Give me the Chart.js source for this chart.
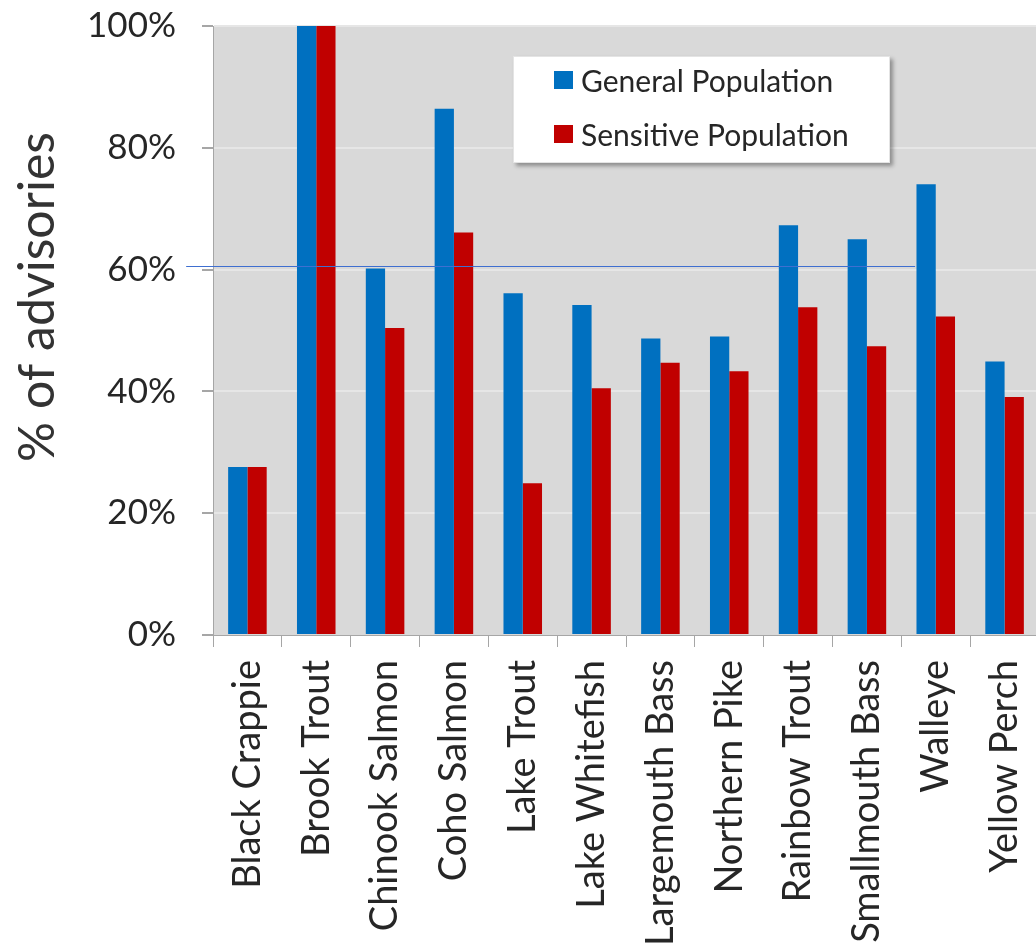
<!DOCTYPE html>
<html>
<head>
    <title>Fish advisories</title>
    <script src="https://cdn.jsdelivr.net/npm/chart.js"></script>
    <style>
        body { margin: 0; overflow: hidden; background: #fff; font-family: Lato, sans-serif; }
        #wrap { position: relative; width: 1040px; height: 952px; }
        #legend {
            position: absolute; left: 513px; top: 56px; width: 377px; height: 107px;
            background: #fff; box-shadow: 3px 3px 4px rgba(0,0,0,0.35);
            border: 1px solid #e4e4e4; box-sizing: border-box;
        }
        .item { position: absolute; left: 40px; height: 36px; display: flex; align-items: center;
                font-size: 30px; color: #262626; }
        .swatch { width: 19px; height: 18px; margin-right: 8px; }
    </style>
</head>
<body>
    <div id="wrap">
        <canvas id="fishChart"></canvas>
        <div id="legend"></div>
    </div>

    <script>
        // data
        const species = ['Black Crappie', 'Brook Trout', 'Chinook Salmon', 'Coho Salmon', 'Lake Trout',
            'Lake Whitefish', 'Largemouth Bass', 'Northern Pike', 'Rainbow Trout', 'Smallmouth Bass',
            'Walleye', 'Yellow Perch'];
        const generalPop = [27.6, 100, 60.2, 86.4, 56.1, 54.2, 48.7, 49.0, 67.3, 65.0, 74.0, 44.9];
        const sensitivePop = [27.6, 100, 50.4, 66.1, 24.9, 40.5, 44.7, 43.3, 53.8, 47.4, 52.3, 39.1];
        const yTickStep = 20;
        // stray blue rule in the original: value in %, span in category units
        const refLine = { value: 60.6, from: -0.89, to: 9.7 };

        const plotBg = {
            id: 'plotBg',
            beforeDraw(chart) {
                const { ctx, chartArea: a } = chart;
                ctx.save();
                ctx.fillStyle = '#d9d9d9';
                ctx.fillRect(a.left, a.top, a.right - a.left, a.bottom - a.top);
                ctx.restore();
            }
        };

        const blueRule = {
            id: 'blueRule',
            afterDatasetsDraw(chart) {
                const { ctx, scales } = chart;
                const y = Math.round(scales.y.getPixelForValue(refLine.value)) + 0.5;
                ctx.save();
                ctx.strokeStyle = '#3f6fd0';
                ctx.lineWidth = 1.2;
                ctx.beginPath();
                ctx.moveTo(scales.x.getPixelForValue(refLine.from), y);
                ctx.lineTo(scales.x.getPixelForValue(refLine.to), y);
                ctx.stroke();
                ctx.restore();
            }
        };

        const yTitle = {
            id: 'yTitle',
            afterDraw(chart) {
                const { ctx } = chart;
                ctx.save();
                ctx.translate(38, 297);
                ctx.rotate(-Math.PI / 2);
                ctx.font = '50px Lato';
                ctx.fillStyle = '#333';
                ctx.textAlign = 'center';
                ctx.textBaseline = 'middle';
                ctx.fillText('% of advisories', 0, 0);
                ctx.restore();
            }
        };

        const ctx = document.getElementById('fishChart').getContext('2d');
        const fishChart = new Chart(ctx, {
            type: 'bar',
            data: {
                labels: species,
                datasets: [{
                    label: 'General Population',
                    data: generalPop,
                    backgroundColor: '#0070c0'
                }, {
                    label: 'Sensitive Population',
                    data: sensitivePop,
                    backgroundColor: '#c00000'
                }]
            },
            options: {
                responsive: true,
                maintainAspectRatio: false,
                animation: false,
                layout: { padding: { top: 26, right: 1, left: 0, bottom: 0 } },
                datasets: { bar: { categoryPercentage: 0.56, barPercentage: 1.0 } },
                plugins: { legend: { display: false }, tooltip: { enabled: false } },
                scales: {
                    x: {
                        border: { color: '#a6a6a6', width: 1 },
                        grid: { drawOnChartArea: false, drawTicks: true, tickLength: 12, tickColor: '#a6a6a6' },
                        ticks: {
                            minRotation: 90, maxRotation: 90, autoSkip: false, padding: 13,
                            color: '#262626', font: { family: 'Lato', size: 38 }
                        },
                        afterFit(scale) {
                            scale.height = 317;
                            scale.paddingLeft = 0;
                            scale.paddingRight = 0;
                        }
                    },
                    y: {
                        min: 0, max: 100,
                        border: { color: '#a6a6a6', width: 1 },
                        grid: {
                            color: (c) => c.tick && c.tick.value === 0 ? 'rgba(0,0,0,0)' : '#e6e6e6',
                            lineWidth: 2, tickLength: 11, tickColor: '#a6a6a6'
                        },
                        ticks: {
                            stepSize: yTickStep, padding: 26,
                            color: '#262626', font: { family: 'Lato', size: 35 },
                            callback: (v) => v + '%'
                        },
                        afterFit(scale) {
                            scale.width = 213;
                            scale.paddingTop = 0;
                            scale.paddingBottom = 0;
                        }
                    }
                }
            },
            plugins: [plotBg, blueRule, yTitle]
        });

        // legend box drawn in html, from the datasets
        const legend = document.getElementById('legend');
        fishChart.data.datasets.forEach((ds, i) => {
            const item = document.createElement('div');
            item.className = 'item';
            item.style.top = (5 + i * 54) + 'px';
            item.innerHTML = '<span class="swatch" style="background:' + ds.backgroundColor + '"></span>' + ds.label;
            legend.appendChild(item);
        });
    </script>
</body>
</html>
